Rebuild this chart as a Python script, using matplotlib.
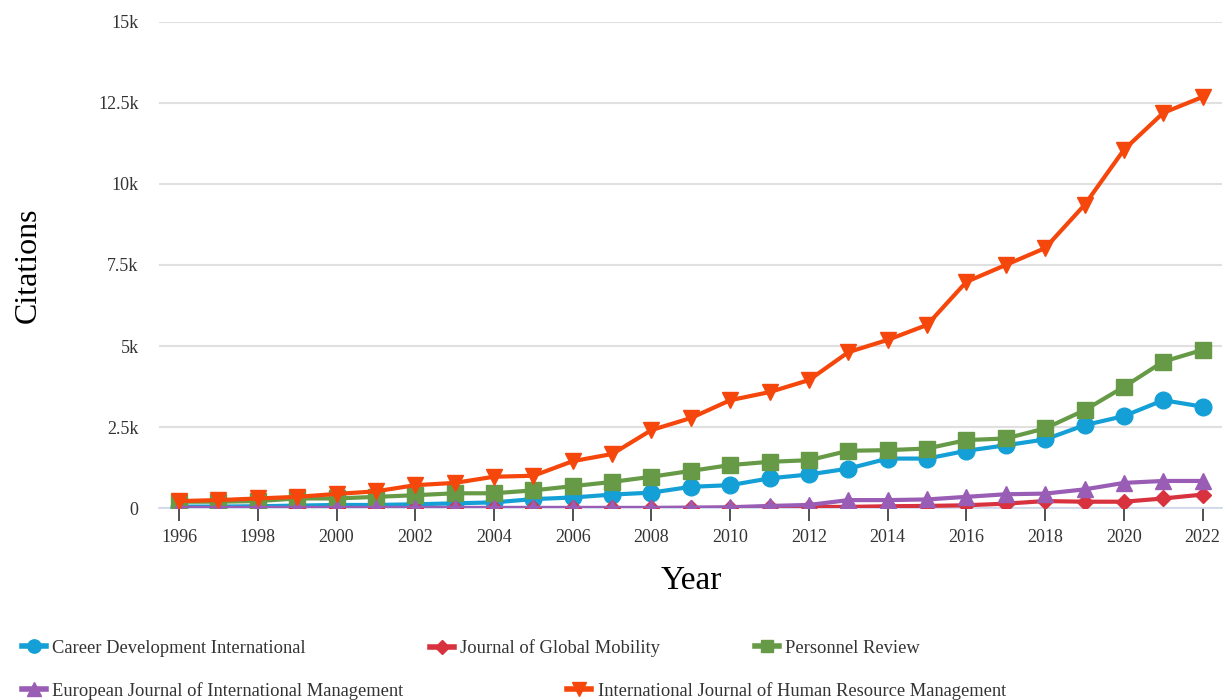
"""
Citations per year for five journals, 1996-2022.
"""

import matplotlib
matplotlib.use("Agg")
import matplotlib.pyplot as plt
from matplotlib.lines import Line2D
from matplotlib.ticker import FuncFormatter, MultipleLocator

YEARS = list(range(1996, 2023))

SERIES_NAMES = [
    "Career Development International",
    "Journal of Global Mobility",
    "Personnel Review",
    "European Journal of International Management",
    "International Journal of Human Resource Management",
]

CDI = [50, 50, 60, 80, 100, 100, 120, 150, 180, 280, 330, 420, 480, 660, 710,
       920, 1040, 1220, 1530, 1530, 1770, 1940, 2120, 2560, 2840, 3330, 3130]
JGM = [0, 0, 0, 0, 0, 0, 0, 0, 0, 0, 0, 0, 0, 0, 0,
       30, 40, 40, 60, 70, 90, 140, 220, 200, 200, 300, 420]
PR = [200, 200, 220, 300, 300, 350, 400, 460, 460, 550, 680, 810, 970, 1150, 1330,
      1430, 1480, 1770, 1790, 1840, 2100, 2150, 2460, 3020, 3740, 4520, 4880]
EJIM = [10, 10, 10, 10, 10, 10, 10, 10, 10, 10, 10, 10, 10, 20, 30,
        70, 100, 250, 250, 270, 350, 430, 450, 580, 780, 840, 840]
IJHRM = [220, 250, 300, 350, 440, 520, 710, 780, 970, 1000, 1450, 1670, 2410, 2780, 3330,
         3580, 3950, 4810, 5190, 5650, 6980, 7500, 8020, 9350, 11050, 12190, 12680]

SERIES_VALUES = [CDI, JGM, PR, EJIM, IJHRM]
COLORS = ["#14a0d6", "#d8323f", "#679a46", "#9a5db5", "#f5470c"]
MARKERS = ["o", "D", "s", "^", "v"]
MARKER_SIZES = [12, 8.5, 11, 12, 12]

# legend placement (figure fraction), mimics the flowing legend of the original
LEGEND_POS = [(0.007, 0.074), (0.340, 0.074), (0.605, 0.074),
              (0.007, 0.013), (0.452, 0.013)]


def k_format(v, pos):
    if v == 0:
        return "0"
    s = f"{v / 1000:.1f}".rstrip("0").rstrip(".")
    return f"{s}k"


def main():
    plt.rcParams["font.family"] = ["Liberation Serif", "DejaVu Serif"]

    fig = plt.figure(figsize=(12.26, 7.0), dpi=100)
    ax = fig.add_axes([0.130, 0.274, 0.867, 0.695])

    for i, (name, vals) in enumerate(zip(SERIES_NAMES, SERIES_VALUES)):
        ax.plot(YEARS, vals, color=COLORS[i], marker=MARKERS[i],
                markersize=MARKER_SIZES[i], linewidth=3, zorder=3 + i,
                solid_joinstyle="round", label=name)

    ax.set_xlim(1995.5, 2022.5)
    ax.set_ylim(0, 15000)
    ax.yaxis.set_major_locator(MultipleLocator(2500))
    ax.yaxis.set_major_formatter(FuncFormatter(k_format))
    ax.xaxis.set_major_locator(MultipleLocator(2))

    ax.grid(True, axis="y", color="#e0e0e0", linewidth=1.5)
    ax.set_axisbelow(True)
    for side in ["top", "right", "left"]:
        ax.spines[side].set_visible(False)
    ax.spines["bottom"].set_color("#ccd6eb")
    ax.spines["bottom"].set_linewidth(1.2)

    ax.tick_params(axis="y", length=0, pad=15, labelsize=13, labelcolor="#333333")
    ax.tick_params(axis="x", length=9, width=1.2, color="#333333",
                   labelsize=13, labelcolor="#333333", pad=6)

    ax.set_xlabel("Year", fontsize=24, labelpad=14)
    ax.set_ylabel("Citations", fontsize=23, labelpad=40)

    for i, name in enumerate(SERIES_NAMES):
        handle = Line2D([], [], color=COLORS[i], marker=MARKERS[i],
                        markersize=MARKER_SIZES[i] * 0.8, linewidth=4)
        fig.legend(handles=[handle], labels=[name], loc="center left",
                   bbox_to_anchor=LEGEND_POS[i], frameon=False, fontsize=13.3,
                   handlelength=1.3, handletextpad=0.35, borderpad=0.2,
                   labelcolor="#333333")

    fig.savefig("out.png", dpi=100)
    plt.close(fig)


if __name__ == "__main__":
    main()
